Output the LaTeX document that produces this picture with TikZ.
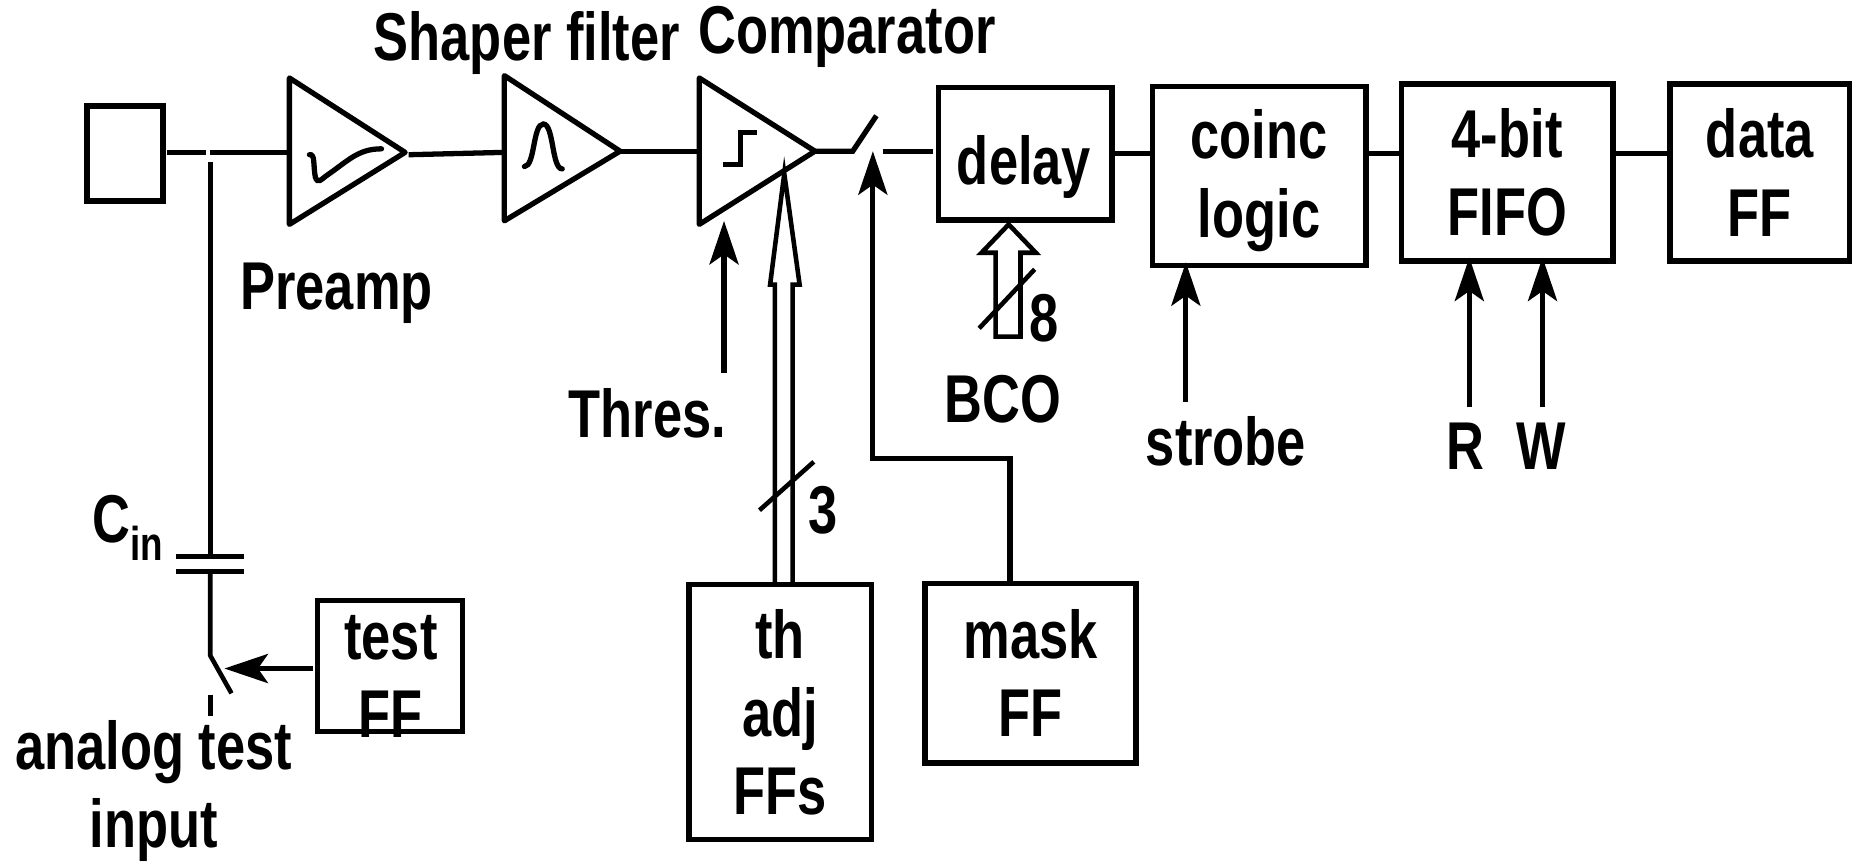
\documentclass[tikz,border=0pt]{standalone}
\usepackage{fontspec}
\setmainfont[FakeStretch=0.775]{Liberation Sans}
\usepackage{tikz}
\usetikzlibrary{calc,arrows.meta}
\tikzset{
  wire/.style={line width=3pt},
  thinwire/.style={line width=2.6pt},
  blockbox/.style={draw, line width=3.1pt, inner sep=0pt, align=center, font=\labelfont},
  labeltxt/.style={inner sep=0pt, align=center, font=\labelfont},
  sigarrow/.style={wire, -{Stealth[length=0.87cm, width=0.58cm, inset=0.2cm]}},
}
\newcommand{\labelfont}{\bfseries\fontsize{38.5}{44.5}\selectfont}

\begin{document}
\begin{tikzpicture}[x=0.02362cm, y=-0.02362cm]
    \useasboundingbox (0,0) rectangle (1568,729);

    % Amplifier chain
    \node[blockbox, minimum width=1.52cm, minimum height=1.90cm] (pad) at (106,130) {};
    \coordinate (preampin) at (245,129);
    \coordinate (preampout) at (343,129);
    \coordinate (shaperin) at (427,129);
    \coordinate (shaperout) at (525,128);
    \coordinate (compin) at (592,128);
    \coordinate (compout) at (690,128);
    \draw[wire, line join=round] (245,66) -- (preampout) -- (245,190) -- cycle;
    \draw[wire, line join=round] (427,64) -- (shaperout) -- (427,187) -- cycle;
    \draw[wire, line join=round] (592,66) -- (compout) -- (592,190) -- cycle;

    % Pulse shapes inside the triangles
    \draw[wire, line cap=round] (262,131) .. controls (267,130) and (265,140) .. (267,150) .. controls (269,156) and (272,152) .. (276,149) .. controls (295,136) and (303,126) .. (323,126);
    \draw[wire, line cap=round] (444,141) .. controls (453,141) and (451,105) .. (460,105) .. controls (469,105) and (467,143) .. (476,143);
    \draw[wire] (612,139) -- (627,139) -- (627,112) -- (641,112);

    % Blocks
    \node[blockbox, minimum width=3.47cm, minimum height=2.65cm] (delay) at (868,130) {};
    \node[labeltxt] (delaytxt) at (867,141) {delay};
    \node[blockbox, minimum width=4.27cm, minimum height=3.57cm] (coinc) at (1066,149) {};
    \node[labeltxt] (coinctxt) at (1066,153) {coinc\\logic};
    \node[blockbox, minimum width=4.23cm, minimum height=3.54cm] (fifo) at (1276,146) {4-bit\\FIFO};
    \node[blockbox, minimum width=3.59cm, minimum height=3.54cm] (data) at (1490,146) {data\\FF};
    \node[blockbox, minimum width=2.90cm, minimum height=2.62cm] (testff) at (330,564) {};
    \node[labeltxt] (testtxt) at (331,573) {test\\FF};
    \node[blockbox, minimum width=3.65cm, minimum height=5.10cm] (thadj) at (660.5,603) {th\\adj\\FFs};
    \node[blockbox, minimum width=4.22cm, minimum height=3.59cm] (mask) at (872.5,570) {mask\\FF};

    % Main signal line
    \coordinate (swin) at (722,128);
    \coordinate (swout) at (748,128);
    \draw[wire] (141,129) -- (174,129);
    \draw[wire] (178,129) -- (preampin);
    \draw[wire] (346,131) -- (shaperin);
    \draw[wire] (shaperout) -- (compin);
    \draw[wire] (compout) -- (swin) -- (742,98);
    \draw[wire] (swout) -- (790,128);
    \draw[wire] (delay.east |- 0,130) -- (coinc.west |- 0,130);
    \draw[wire] (coinc.east |- 0,130) -- (fifo.west |- 0,130);
    \draw[wire] (fifo.east |- 0,130) -- (data.west |- 0,130);

    % Test input branch
    \coordinate (capa) at (178,471);
    \coordinate (capb) at (178,484);
    \coordinate (swtest) at (178,555);
    \draw[thinwire] (178,137) -- (capa);
    \draw[wire] (149,471) -- (207,471);
    \draw[wire] (149,484) -- (207,484);
    \draw[thinwire] (capb) -- (swtest) -- (196,587);
    \draw[thinwire] (178,588) -- (178,606);
    \draw[sigarrow] (265,566) -- (190,566);

    % Control inputs
    \draw[sigarrow] (613,316) -- (613,187);
    \draw[sigarrow] (1004,340) -- (1004,222);
    \draw[sigarrow] (1244,345) -- (1244,218);
    \draw[sigarrow] (1306,345) -- (1306,218);
    \draw[sigarrow] (mask.north -| 855,0) -- (855,388) -- (739,388) -- (739,128);

    % Bus arrows
    \draw[thinwire] (656,494) -- (656,241) -- (652,241) -- (664,147) -- (677,241) -- (671,241) -- (671,494);
    \draw[thinwire] (643,432) -- (689,391);
    \draw[thinwire] (843,285) -- (843,214) -- (831,214) -- (854,190) -- (877,214) -- (864,214) -- (864,285) -- cycle;
    \draw[thinwire] (829,278) -- (876,228);

    % Labels
    \node[labeltxt] (preamp) at (285,248) {Preamp};
    \node[labeltxt] (shaper) at (446,36) {Shaper filter};
    \node[labeltxt] (comparator) at (717,31) {Comparator};
    \node[labeltxt] (thres) at (548,350) {Thres.};
    \node[labeltxt] (cin) at (108,447) {C\raisebox{-10pt}{\fontsize{27}{27}\selectfont in}};
    \node[labeltxt] (analog) at (130,670) {analog test\\input};
    \node[labeltxt] (three) at (697,432) {3};
    \node[labeltxt] (eight) at (884,269) {8};
    \node[labeltxt] (bco) at (849,338) {BCO};
    \node[labeltxt] (strobe) at (1038,374) {strobe};
    \node[labeltxt] (rlab) at (1241,378) {R};
    \node[labeltxt] (wlab) at (1305,378) {W};
\end{tikzpicture}
\end{document}
